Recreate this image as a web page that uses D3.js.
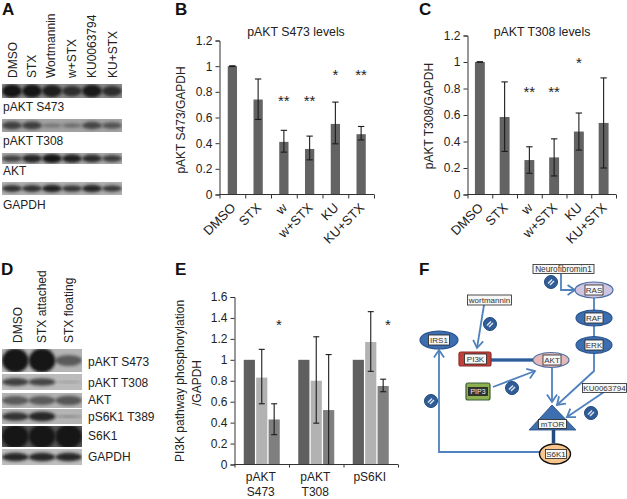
<!DOCTYPE html>
<html>
<head>
<meta charset="utf-8">
<script src="https://cdn.jsdelivr.net/npm/d3@7"></script>
<style>
html, body { margin: 0; padding: 0; background: #fff; }
svg { display: block; }
text { font-family: "Liberation Sans", Arial, sans-serif; fill: #222; }
.axis path, .axis line { stroke: #333; stroke-width: 1; }
.axis text { font-size: 12px; fill: #222; }
.letter { font-size: 17px; font-weight: bold; fill: #111; }
.star { font-size: 15px; }
</style>
</head>
<body>
<div id="chart"></div>
<script>
// blot A
var lanesA = ["DMSO", "STX", "Wortmannin", "w+STX", "KU0063794", "KU+STX"];
var rowsA = ["pAKT S473", "pAKT T308", "AKT", "GAPDH"];
var bandsA = [
    [1, 1, .9, .72, .95, .72],
    [.6, .62, .1, .18, .55, .42],
    [.62, .85, 1, .9, .8, .65],
    [.75, .75, .9, .72, .85, .68]
];
// blot D
var lanesD = ["DMSO", "STX attached", "STX floating"];
var rowsD = ["pAKT S473", "pAKT T308", "AKT", "pS6K1 T389", "S6K1", "GAPDH"];
var bandsD = [
    [1, 1, .42],
    [.65, .62, .03],
    [.42, .42, .45],
    [.75, .85, .08],
    [1, 1, 1],
    [.85, .85, .85]
];

// bar panels B and C
var drugs = ["DMSO", "STX", "w", "w+STX", "KU", "KU+STX"];
var s473Mean = [1, .74, .41, .355, .55, .47];
var s473Hi = [1.003, .9, .5, .455, .72, .53];
var s473Lo = [.997, .585, .33, .27, .395, .425];
var s473Stars = ["", "", "**", "**", "*", "**"];
var s473StarY = [0, 0, .745, .745, .95, .95];

var t308Mean = [1, .585, .26, .28, .475, .54];
var t308Hi = [1.002, .85, .36, .42, .615, .88];
var t308Lo = [.998, .325, .16, .14, .335, .2];
var t308Stars = ["", "", "**", "**", "*", ""];
var t308StarY = [0, 0, .785, .785, 1.01, 0];

var ticks12 = [0, .2, .4, .6, .8, 1, 1.2];

// panel E
var groups = ["pAKT S473", "pAKT T308", "pS6KI"];
var conditions = ["DMSO", "STX attached", "STX floating"];
var dmsoMean = [1, 1, 1];
var attachedMean = [.83, .8, 1.17];
var attachedHi = [1.1, 1.22, 1.46];
var attachedLo = [.58, .395, .89];
var floatingMean = [.43, .52, .75];
var floatingHi = [.58, 1.05, .815];
var floatingLo = [.285, 0, .695];
var ticks16 = [0, .2, .4, .6, .8, 1, 1.2, 1.4, 1.6];

// panel F
var nodeNames = ["RAS", "RAF", "ERK", "IRS1", "AKT", "S6K1"];
var boxNames = ["PI3K", "PIP3"];
var drugNames = ["wortmannin", "Neurofibromin1", "KU0063794"];

var svg = d3.select("#chart").append("svg").attr("width", 627).attr("height", 499);

var defs = svg.append("defs");
defs.append("filter").attr("id", "soft").attr("x", "-30%").attr("y", "-60%")
    .attr("width", "160%").attr("height", "220%")
    .append("feGaussianBlur").attr("stdDeviation", 1.4);

function letter(s, x, y) {
    svg.append("text").attr("class", "letter").attr("x", x).attr("y", y).text(s);
}
letter("A", 2, 15);
letter("B", 175, 15);
letter("C", 419, 15);
letter("D", 1, 275);
letter("E", 175, 275);
letter("F", 419, 275);

// ---- blots
function blot(id, x0, x1, laneNames, bands, rows) {
    var g = svg.append("g");
    var step = (x1 - x0) / laneNames.length;
    rows.forEach(function(r, i) {
        var clip = id + i;
        defs.append("clipPath").attr("id", clip).append("rect")
            .attr("x", x0).attr("y", r.y0).attr("width", x1 - x0).attr("height", r.y1 - r.y0);
        g.append("rect").attr("x", x0).attr("y", r.y0).attr("width", x1 - x0)
            .attr("height", r.y1 - r.y0).attr("fill", r.bg);
        var h = r.y1 - r.y0;
        g.append("g").attr("clip-path", "url(#" + clip + ")")
            .selectAll("ellipse").data(bands[i]).enter().append("ellipse")
            .attr("filter", "url(#soft)")
            .attr("cx", function(d, j) { return x0 + step * (j + .5); })
            .attr("cy", r.y0 + h * .5)
            .attr("rx", step * .5)
            .attr("ry", function(d) { return h * (r.base + r.grow * d); })
            .attr("fill", "#161616")
            .attr("opacity", function(d) { return .25 + .75 * d; });
    });
}

blot("a", 2, 122, lanesA, bandsA, [
    {y0: 84, y1: 98, bg: "#8a8a8a", base: .12, grow: .36},
    {y0: 119, y1: 132, bg: "#a2a2a2", base: .12, grow: .3},
    {y0: 153, y1: 164, bg: "#aaaaaa", base: .12, grow: .3},
    {y0: 182, y1: 195, bg: "#b0b0b0", base: .1, grow: .22}
]);
blot("d", 2, 82, lanesD, bandsD, [
    {y0: 349, y1: 372, bg: "#b4b4b4", base: .03, grow: .5},
    {y0: 374, y1: 390, bg: "#bbbbbb", base: .03, grow: .34},
    {y0: 393, y1: 408, bg: "#b4b4b4", base: .05, grow: .6},
    {y0: 409, y1: 424, bg: "#b4b4b4", base: .05, grow: .32},
    {y0: 426, y1: 447, bg: "#555555", base: .05, grow: .52},
    {y0: 449, y1: 465, bg: "#bdbdbd", base: .05, grow: .26}
]);

function rotatedLabels(names, xs, bottom) {
    svg.append("g").selectAll("text").data(names).enter().append("text")
        .attr("transform", function(d, i) { return "translate(" + xs[i] + "," + bottom + ")rotate(-90)"; })
        .style("font-size", "12px")
        .text(function(d) { return d; });
}
rotatedLabels(lanesA, [17, 36, 55, 76, 96, 117], 78);
rotatedLabels(lanesD, [22, 46, 73], 343);

function rowLabels(names, x, ys) {
    svg.append("g").selectAll("text").data(names).enter().append("text")
        .attr("x", x).attr("y", function(d, i) { return ys[i]; })
        .style("font-size", "12px")
        .text(function(d) { return d; });
}
rowLabels(rowsA, 3, [111, 145, 175, 209]);
rowLabels(rowsD, 88, [366, 387, 404, 421, 440, 461]);

// ---- bar graphs
function errorBars(g, x, y, xpos, hi, lo, capw, color) {
    hi.forEach(function(h, i) {
        var e = g.append("g").attr("stroke", color).attr("stroke-width", 1.1);
        var cx = xpos(i);
        e.append("line").attr("x1", cx).attr("x2", cx).attr("y1", y(h)).attr("y2", y(lo[i]));
        e.append("line").attr("x1", cx - capw).attr("x2", cx + capw).attr("y1", y(h)).attr("y2", y(h));
        e.append("line").attr("x1", cx - capw).attr("x2", cx + capw).attr("y1", y(lo[i])).attr("y2", y(lo[i]));
    });
}

function barGraph(opt) {
    var g = svg.append("g");
    var y = d3.scaleLinear().domain([0, 1.2]).range([opt.y0, opt.y1]);
    var x = d3.scaleBand().domain(drugs).range([opt.x0, opt.x1]).paddingInner(opt.pad).paddingOuter(opt.pad / 2);
    var edge = d3.scaleLinear().domain([0, drugs.length]).range([opt.x0, opt.x1]);

    g.selectAll("rect").data(opt.mean).enter().append("rect")
        .attr("x", function(d, i) { return x(drugs[i]); })
        .attr("y", function(d) { return y(d); })
        .attr("width", x.bandwidth())
        .attr("height", function(d) { return y(0) - y(d); })
        .attr("fill", "#636363");

    errorBars(g, x, y, function(i) { return x(drugs[i]) + x.bandwidth() / 2; }, opt.hi, opt.lo, 3.2, "#1c1c1c");

    g.append("g").attr("class", "axis").attr("transform", "translate(" + opt.x0 + ",0)")
        .call(d3.axisLeft(y).tickValues(ticks12).tickSize(4).tickFormat(String));
    var ax = g.append("g").attr("class", "axis").attr("transform", "translate(0," + opt.y0 + ")")
        .call(d3.axisBottom(edge).tickValues(d3.range(drugs.length + 1)).tickSize(4).tickFormat(""));
    ax.selectAll(".domain").attr("d", "M" + opt.x0 + ",0H" + opt.x1);

    g.selectAll(".xlab").data(drugs).enter().append("text").attr("class", "xlab")
        .attr("text-anchor", "end")
        .attr("transform", function(d) {
            return "translate(" + (x(d) + x.bandwidth() / 2 + 4) + "," + (opt.y0 + 14) + ")rotate(-45)";
        })
        .style("font-size", "13px")
        .text(function(d) { return d; });

    g.selectAll(".star").data(opt.stars).enter().append("text").attr("class", "star")
        .attr("text-anchor", "middle")
        .attr("x", function(d, i) { return x(drugs[i]) + x.bandwidth() / 2; })
        .attr("y", function(d, i) { return y(opt.starY[i]) + 7; })
        .text(function(d) { return d; });

    g.append("text").attr("text-anchor", "middle").attr("x", opt.titleX).attr("y", 36)
        .style("font-size", "12.3px").text(opt.title);
    g.append("text").attr("text-anchor", "middle")
        .attr("transform", "translate(" + opt.labelX + "," + opt.labelY + ")rotate(-90)")
        .style("font-size", "12px").text(opt.ylabel);
}

barGraph({x0: 219.5, x1: 374, y0: 194.5, y1: 40.5, pad: .64, mean: s473Mean, hi: s473Hi, lo: s473Lo,
    stars: s473Stars, starY: s473StarY, title: "pAKT S473 levels", titleX: 296,
    ylabel: "pAKT S473/GAPDH", labelX: 185, labelY: 120});
barGraph({x0: 467.5, x1: 616, y0: 194.5, y1: 35.5, pad: .6, mean: t308Mean, hi: t308Hi, lo: t308Lo,
    stars: t308Stars, starY: t308StarY, title: "pAKT T308 levels", titleX: 542,
    ylabel: "pAKT T308/GAPDH", labelX: 433, labelY: 116});

// ---- panel E
(function() {
    var g = svg.append("g");
    var x0 = 234.5, x1 = 398, yb = 464.5, yt = 297;
    var y = d3.scaleLinear().domain([0, 1.6]).range([yb, yt]);
    var x = d3.scaleBand().domain(groups).range([x0, x1]);
    var sub = d3.scaleBand().domain(conditions).range([0, 36]).paddingInner(.1);
    var off = (x.bandwidth() - 36) / 2;
    var fills = d3.scaleOrdinal().domain(conditions).range(["#5f5f5f", "#b2b2b2", "#7f7f7f"]);
    var sets = [[dmsoMean, conditions[0]], [attachedMean, conditions[1]], [floatingMean, conditions[2]]];

    sets.forEach(function(s) {
        g.append("g").selectAll("rect").data(s[0]).enter().append("rect")
            .attr("x", function(d, i) { return x(groups[i]) + off + sub(s[1]); })
            .attr("y", function(d) { return y(d); })
            .attr("width", sub.bandwidth())
            .attr("height", function(d) { return yb - y(d); })
            .attr("fill", fills(s[1]));
    });
    errorBars(g, x, y, function(i) { return x(groups[i]) + off + sub(conditions[1]) + sub.bandwidth() / 2; },
        attachedHi, attachedLo, 3, "#1c1c1c");
    errorBars(g, x, y, function(i) { return x(groups[i]) + off + sub(conditions[2]) + sub.bandwidth() / 2; },
        floatingHi, floatingLo, 3, "#1c1c1c");

    g.append("g").attr("class", "axis").attr("transform", "translate(" + x0 + ",0)")
        .call(d3.axisLeft(y).tickValues(ticks16).tickSize(4).tickFormat(String));
    var edge = d3.scaleLinear().domain([0, 3]).range([x0, x1]);
    var ax = g.append("g").attr("class", "axis").attr("transform", "translate(0," + yb + ")")
        .call(d3.axisBottom(edge).tickValues([0, 1, 2, 3]).tickSize(3).tickFormat(""));
    ax.selectAll(".domain").attr("d", "M" + x0 + ",0H" + x1);

    groups.forEach(function(name) {
        var t = g.append("text").attr("text-anchor", "middle").style("font-size", "12px");
        name.split(" ").forEach(function(w, i) {
            t.append("tspan").attr("x", x(name) + x.bandwidth() / 2 - 1).attr("y", 481 + i * 15).text(w);
        });
    });

    g.append("text").attr("class", "star").attr("text-anchor", "middle")
        .attr("x", 279).attr("y", y(1.35) + 7).text("*");
    g.append("text").attr("class", "star").attr("text-anchor", "middle")
        .attr("x", 388).attr("y", y(1.35) + 7).text("*");

    g.append("text").attr("text-anchor", "middle")
        .attr("transform", "translate(184,381)rotate(-90)")
        .style("font-size", "12px").text("PI3K pathway phosphorylation");
    g.append("text").attr("text-anchor", "middle")
        .attr("transform", "translate(201,383)rotate(-90)")
        .style("font-size", "12px").text("/GAPDH");
})();

// ---- panel F
(function() {
    var g = svg.append("g");
    var blue = "#4f81bd", dark = "#254a7c", mid = "#3c6eb0";

    function link(points, color, w) {
        g.append("path").attr("d", d3.line()(points)).attr("fill", "none")
            .attr("stroke", color).attr("stroke-width", w);
    }
    function chevron(from, to, size) {
        var a = Math.atan2(to[1] - from[1], to[0] - from[0]);
        var l = [to[0] - size * Math.cos(a - .6), to[1] - size * Math.sin(a - .6)];
        var r = [to[0] - size * Math.cos(a + .6), to[1] - size * Math.sin(a + .6)];
        link([l, to, r], blue, 1.8);
    }
    function arrow(points) {
        link(points, blue, 1.8);
        chevron(points[points.length - 2], points[points.length - 1], 9);
    }

    arrow([[561, 274], [561, 290], [575, 290]]);
    link([[594, 297], [594, 338]], blue, 1.8);
    arrow([[594, 353], [594, 371], [557, 405]]);
    arrow([[484, 305], [477, 348]]);
    arrow([[493, 387], [535, 371]]);
    arrow([[552, 368], [552, 402]]);
    arrow([[604, 392], [567, 417]]);
    arrow([[540, 452], [439, 452], [439, 350]]);
    link([[491, 360], [533, 360]], mid, 3.6);
    link([[491, 360], [533, 360]], dark, 1);
    link([[553.5, 430], [553.5, 443]], dark, 3.5);

    // mTOR triangle
    var tri = d3.path();
    tri.moveTo(552, 405); tri.lineTo(576, 430); tri.lineTo(529, 430); tri.closePath();
    g.append("path").attr("d", tri.toString()).attr("fill", mid).attr("stroke", dark).attr("stroke-width", .8);

    var nodePlace = {
        RAS: {x: 594, y: 290, rx: 19, ry: 8, fill: "#cfc5e1", stroke: "#4a6fa5", w: 1.2},
        RAF: {x: 594, y: 318, rx: 18, ry: 8, fill: mid, stroke: "#2d5590", w: 1.2},
        ERK: {x: 594, y: 345, rx: 18, ry: 8.5, fill: mid, stroke: "#2d5590", w: 1.2},
        IRS1: {x: 439, y: 340, rx: 19, ry: 9, fill: mid, stroke: "#2d5590", w: 1.2},
        AKT: {x: 551, y: 360, rx: 18, ry: 7.5, fill: "#e6b9b8", stroke: "#4a6fa5", w: 1.2},
        S6K1: {x: 555, y: 454, rx: 15.5, ry: 10, fill: "#f8c58c", stroke: "#111", w: 1.4}
    };
    nodeNames.forEach(function(n) {
        var p = nodePlace[n];
        g.append("ellipse").attr("cx", p.x).attr("cy", p.y).attr("rx", p.rx).attr("ry", p.ry)
            .attr("fill", p.fill).attr("stroke", p.stroke).attr("stroke-width", p.w);
    });

    var boxPlace = {
        PI3K: {x: 459, y: 352, w: 32, h: 14, fill: "#c0413b", stroke: "#8e2b28"},
        PIP3: {x: 466, y: 383, w: 24, h: 17, fill: "#8db04f", stroke: "#3d5c38"}
    };
    boxNames.forEach(function(n) {
        var p = boxPlace[n];
        g.append("rect").attr("x", p.x).attr("y", p.y).attr("width", p.w).attr("height", p.h).attr("rx", 2)
            .attr("fill", p.fill).attr("stroke", p.stroke).attr("stroke-width", 1.2);
    });

    // small white name tags on top of the shapes
    function tag(s, cx, cy, w, h, size, isDark) {
        g.append("rect").attr("x", cx - w / 2).attr("y", cy - h / 2).attr("width", w).attr("height", h)
            .attr("fill", isDark ? "#333" : "#f7f7f7").attr("stroke", "#222").attr("stroke-width", .8);
        g.append("text").attr("x", cx).attr("y", cy + size * .36).attr("text-anchor", "middle")
            .style("font-size", size + "px").style("fill", isDark ? "#eee" : "#333").text(s);
    }
    var tagPlace = {
        RAS: [594, 290, 18, 10], RAF: [594, 318, 18, 10], ERK: [594, 345, 18, 10],
        IRS1: [439, 340, 21, 10], AKT: [552, 360, 18, 10], S6K1: [556, 454, 21, 9]
    };
    nodeNames.forEach(function(n) {
        var t = tagPlace[n];
        tag(n, t[0], t[1], t[2], t[3], 8);
    });
    tag(boxNames[0], 475.5, 359, 22, 10, 8);
    tag(boxNames[1], 478, 391.5, 19, 8, 7, true);
    tag("mTOR", 552.5, 424, 28, 9, 8);
    tag(drugNames[0], 489.5, 300, 44, 10, 8);
    tag(drugNames[1], 563.5, 269, 61, 9, 8.3);
    tag(drugNames[2], 604.5, 388, 44, 9, 8);

    // inhibitor badges
    var badges = [[551, 282], [490, 324], [512, 388], [431, 401], [591, 413]];
    badges.forEach(function(b) {
        var c = g.append("g").attr("transform", "translate(" + b[0] + "," + b[1] + ")");
        c.append("circle").attr("r", 6.5).attr("fill", "#2f5c96").attr("stroke", "#234a7c");
        c.append("line").attr("x1", -3).attr("y1", 1.5).attr("x2", 1).attr("y2", -2.5)
            .attr("stroke", "#dfe6ef").attr("stroke-width", 1.5);
        c.append("line").attr("x1", -1).attr("y1", 3).attr("x2", 3).attr("y2", -1)
            .attr("stroke", "#dfe6ef").attr("stroke-width", 1.5);
    });
})();
</script>
</body>
</html>
